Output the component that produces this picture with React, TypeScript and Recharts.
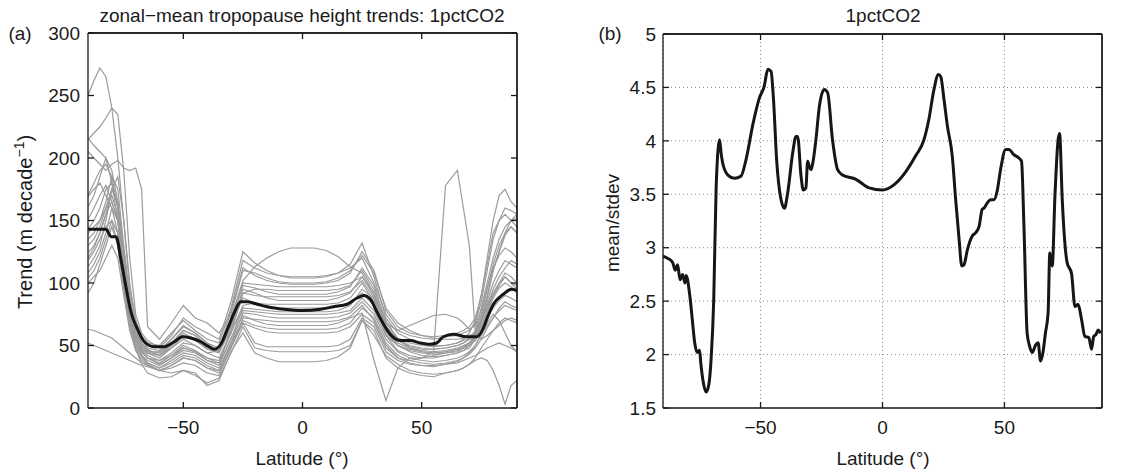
import React from 'react';
import { LineChart, Line, XAxis, YAxis, CartesianGrid, ReferenceLine } from 'recharts';

const FONT = '"Liberation Sans", Arial, Helvetica, sans-serif';

// ---------- Panel (a): latitude grid for individual model trends ----------
const grayLats = [-90, -87.5, -85, -82.5, -80, -77.5, -75, -72.5, -70, -67.5, -65, -60, -55, -50, -45, -40, -35, -30, -25, -20, -15, -10, -5, 0, 5, 10, 15, 20, 25, 30, 35, 40, 45, 50, 55, 60, 65, 67.5, 70, 72.5, 75, 77.5, 80, 82.5, 85, 87.5, 90];

// individual model trends (m/decade)
const m01 = [120, 128, 140, 155, 175, 165, 125, 85, 62, 52, 47, 42, 48, 55, 50, 44, 46, 72, 102, 113, 120, 125, 128, 128, 128, 126, 121, 113, 108, 92, 68, 62, 66, 70, 74, 75, 72, 68, 63, 66, 78, 96, 112, 122, 128, 125, 120];
const m02 = [250, 262, 272, 265, 240, 200, 150, 95, 70, 58, 52, 50, 60, 70, 62, 55, 52, 80, 118, 112, 108, 106, 105, 105, 105, 106, 108, 112, 120, 100, 75, 62, 58, 56, 55, 57, 58, 60, 62, 68, 85, 110, 135, 150, 160, 158, 155];
const m03 = [215, 220, 225, 232, 240, 235, 190, 120, 75, 60, 54, 48, 58, 72, 65, 60, 55, 85, 125, 116, 110, 106, 104, 104, 104, 105, 108, 115, 132, 105, 72, 60, 55, 52, 50, 50, 52, 55, 60, 70, 90, 120, 150, 170, 175, 165, 160];
const m04 = [205, 200, 195, 190, 195, 198, 192, 190, 192, 175, 65, 55, 68, 82, 72, 68, 60, 75, 110, 108, 104, 101, 100, 100, 100, 101, 104, 110, 122, 108, 80, 68, 62, 58, 56, 55, 55, 56, 58, 60, 70, 88, 110, 125, 140, 150, 155];
const m05 = [216, 210, 205, 200, 180, 150, 110, 75, 60, 50, 45, 42, 50, 60, 55, 48, 45, 68, 100, 99, 98, 97, 97, 97, 97, 97, 98, 100, 105, 90, 65, 55, 50, 48, 47, 48, 50, 52, 55, 62, 80, 100, 120, 135, 145, 150, 152];
const m06 = [169, 175, 180, 170, 160, 140, 100, 70, 55, 47, 42, 38, 42, 48, 45, 40, 38, 60, 92, 95, 95, 94, 94, 94, 94, 94, 95, 98, 110, 95, 70, 55, 48, 45, 44, 45, 47, 49, 52, 58, 72, 90, 110, 125, 138, 145, 140];
const m07 = [161, 170, 185, 200, 190, 165, 125, 85, 62, 50, 45, 45, 55, 65, 60, 52, 48, 70, 98, 96, 93, 91, 91, 91, 91, 91, 93, 97, 112, 98, 68, 56, 52, 50, 49, 50, 52, 54, 56, 60, 75, 95, 115, 130, 140, 145, 140];
const m08 = [151, 160, 170, 178, 165, 150, 115, 78, 58, 48, 44, 40, 48, 58, 54, 47, 44, 65, 92, 90, 89, 89, 89, 89, 89, 89, 90, 93, 102, 88, 66, 54, 49, 47, 47, 48, 50, 52, 55, 60, 70, 85, 100, 110, 118, 115, 112];
const m09 = [143, 150, 160, 175, 180, 160, 120, 80, 58, 46, 40, 35, 40, 48, 45, 38, 36, 62, 95, 92, 88, 86, 86, 86, 86, 86, 88, 92, 105, 92, 62, 50, 45, 42, 41, 42, 44, 46, 48, 55, 68, 82, 95, 105, 112, 118, 115];
const m10 = [140, 145, 150, 160, 170, 155, 110, 75, 55, 44, 40, 38, 44, 52, 50, 44, 40, 60, 82, 84, 83, 83, 83, 83, 83, 83, 84, 88, 100, 85, 60, 50, 46, 44, 43, 44, 46, 48, 52, 58, 70, 82, 92, 100, 108, 105, 100];
const m11 = [135, 140, 150, 165, 185, 175, 130, 90, 65, 52, 46, 44, 52, 62, 58, 50, 46, 66, 88, 84, 81, 80, 80, 80, 80, 80, 81, 84, 92, 82, 62, 52, 48, 46, 45, 46, 48, 50, 52, 56, 64, 76, 88, 96, 100, 97, 92];
const m12 = [124, 130, 140, 155, 165, 150, 110, 75, 55, 45, 40, 36, 42, 50, 46, 40, 36, 55, 80, 79, 78, 77, 77, 77, 77, 77, 78, 82, 95, 88, 58, 46, 42, 40, 40, 42, 44, 46, 50, 56, 66, 78, 90, 98, 105, 100, 95];
const m13 = [113, 120, 130, 150, 175, 185, 150, 100, 70, 55, 48, 46, 55, 66, 60, 52, 45, 62, 78, 77, 76, 75, 75, 75, 75, 75, 76, 78, 88, 78, 58, 50, 47, 45, 44, 45, 47, 48, 50, 54, 62, 72, 80, 86, 90, 88, 85];
const m14 = [104, 110, 120, 135, 150, 140, 105, 72, 52, 42, 36, 32, 36, 42, 40, 34, 30, 52, 76, 75, 73, 72, 72, 72, 72, 72, 73, 76, 85, 75, 55, 45, 40, 38, 37, 38, 40, 42, 45, 50, 58, 66, 72, 78, 82, 80, 78];
const m15 = [92, 100, 115, 130, 145, 130, 95, 65, 48, 40, 35, 30, 34, 40, 38, 32, 28, 48, 72, 71, 70, 69, 69, 69, 69, 69, 70, 73, 82, 70, 50, 40, 36, 34, 33, 35, 37, 40, 44, 50, 60, 68, 75, 70, 60, 50, 45];
const m16 = [118, 125, 135, 145, 150, 130, 95, 68, 50, 42, 38, 34, 40, 46, 44, 38, 34, 56, 74, 70, 67, 66, 66, 66, 66, 66, 68, 72, 76, 38, 6, 32, 40, 40, 42, 44, 45, 48, 52, 60, 70, 80, 90, 100, 105, 100, 98];
const m17 = [108, 115, 125, 140, 160, 150, 110, 72, 52, 42, 36, 32, 38, 44, 42, 36, 32, 52, 70, 66, 64, 63, 63, 63, 63, 63, 64, 68, 80, 72, 52, 42, 38, 36, 35, 36, 38, 40, 43, 48, 55, 64, 72, 80, 85, 82, 80];
const m18 = [100, 105, 110, 120, 130, 120, 90, 62, 46, 38, 34, 30, 34, 40, 38, 32, 30, 50, 68, 64, 61, 60, 60, 60, 60, 60, 61, 65, 75, 68, 48, 40, 38, 40, 45, 178, 190, 160, 130, 60, 55, 58, 62, 66, 70, 72, 70];
const m19 = [63, 62, 60, 58, 56, 52, 48, 44, 40, 36, 34, 30, 32, 36, 34, 28, 26, 48, 68, 52, 49, 49, 49, 49, 49, 49, 50, 55, 72, 65, 45, 38, 35, 34, 34, 35, 36, 38, 40, 42, 45, 48, 50, 52, 50, 48, 45];
const m20 = [52, 50, 48, 46, 44, 42, 40, 38, 36, 34, 33, 30, 28, 30, 26, 20, 24, 44, 65, 48, 46, 45, 45, 45, 45, 45, 46, 50, 70, 62, 40, 32, 28, 26, 25, 28, 30, 32, 35, 38, 40, 38, 30, 18, 3, 18, 22];
const m21 = [170, 180, 190, 195, 185, 160, 115, 72, 48, 35, 28, 24, 25, 30, 28, 18, 22, 45, 60, 44, 40, 37, 37, 37, 37, 38, 41, 48, 70, 58, 42, 35, 30, 28, 27, 28, 30, 32, 35, 40, 48, 55, 62, 68, 72, 70, 68];
const m22 = [130, 135, 145, 160, 175, 165, 120, 80, 58, 48, 44, 42, 52, 62, 58, 50, 46, 78, 112, 106, 102, 100, 99, 99, 99, 100, 102, 108, 125, 110, 78, 65, 60, 58, 57, 58, 60, 62, 65, 72, 90, 115, 140, 150, 155, 150, 145];
const modelTrends = [m01, m02, m03, m04, m05, m06, m07, m08, m09, m10, m11, m12, m13, m14, m15, m16, m17, m18, m19, m20, m21, m22];

// multi-model mean trend
const meanLat = [-90, -82.4, -80.3, -78.2, -76.2, -74.1, -72, -69.2, -66.4, -62.2, -58, -53.8, -50.3, -46.9, -42.7, -39.2, -37.1, -34.3, -31.5, -28.7, -25.9, -23.2, -19, -14.8, -7.8, 0, 7.5, 13.1, 18.7, 22.9, 25.7, 28.5, 31.2, 34, 36.8, 41, 45.2, 49.4, 53.6, 56.3, 59.1, 63.3, 68.9, 73.1, 75.9, 77.3, 80.1, 84.2, 87.7, 90];
const meanTrend = [143, 143, 137, 137, 119, 97, 77, 63, 53, 49, 49, 53, 57, 56, 53, 49, 47, 51, 63, 76, 85, 85, 83, 81, 79, 78, 79, 81, 83, 88, 90, 87, 77, 67, 59, 54, 54, 52, 51, 52, 57, 59, 57, 57, 64, 71, 83, 91, 95, 94];

// ---------- Panel (b): mean / stdev ----------
const snrLat = [-90, -88, -86, -85, -84, -83, -82, -81, -80.5, -79, -78, -77, -76, -75, -74.5, -73.4, -72.3, -71.2, -70.3, -69.2, -68.2, -66.8, -66.2, -65.5, -63.4, -60.7, -58, -56, -53, -50.5, -48.5, -47, -45.7, -44.7, -43.4, -41.6, -40.2, -38.9, -36.8, -35.5, -34.8, -33.4, -32.5, -31.4, -30.7, -30, -29.3, -28.6, -27.3, -25.9, -23.9, -22.5, -20.5, -18.4, -16.4, -10.9, -5.5, 0, 4.8, 9.5, 13.6, 17, 19, 21.1, 22.9, 23.9, 25.2, 26.6, 28.6, 30, 31.4, 32.5, 33.4, 34.8, 36.8, 38.2, 39.6, 40.9, 41.6, 43, 44.3, 45.7, 47, 48.4, 50.5, 51.8, 53.9, 55.9, 57, 58, 59.3, 60.3, 61.4, 62.8, 63.8, 64.8, 65.8, 66.8, 67.9, 68.6, 69.6, 70.7, 72, 72.6, 73.7, 75.7, 77.5, 78.9, 80.2, 81.6, 83, 84.6, 85.7, 86.6, 87.6, 88.4, 89.4];
const snrValue = [2.92, 2.9, 2.86, 2.79, 2.84, 2.7, 2.75, 2.67, 2.74, 2.55, 2.33, 2.11, 2.02, 2.04, 1.92, 1.73, 1.65, 1.72, 1.95, 2.51, 3.57, 4.01, 3.89, 3.79, 3.68, 3.65, 3.67, 3.82, 4.17, 4.4, 4.51, 4.67, 4.65, 4.39, 3.82, 3.45, 3.37, 3.51, 3.89, 4.04, 4.04, 3.67, 3.54, 3.56, 3.81, 3.76, 3.73, 3.79, 4.01, 4.32, 4.48, 4.45, 4.01, 3.73, 3.68, 3.64, 3.56, 3.54, 3.59, 3.71, 3.86, 4.01, 4.2, 4.48, 4.62, 4.6, 4.39, 4.14, 3.86, 3.45, 3.08, 2.83, 2.84, 2.98, 3.11, 3.14, 3.2, 3.36, 3.37, 3.42, 3.45, 3.45, 3.53, 3.73, 3.92, 3.92, 3.87, 3.84, 3.81, 3.2, 2.2, 2.08, 2.02, 2.09, 2.11, 1.94, 2.02, 2.2, 2.39, 2.95, 2.83, 3.48, 4.01, 4.07, 3.45, 2.86, 2.76, 2.45, 2.47, 2.33, 2.17, 2.16, 2.05, 2.17, 2.19, 2.23, 2.2];

const latTicks = [-50, 0, 50];
const latDomain: [number, number] = [-90, 90];
const trendTicks = [0, 50, 100, 150, 200, 250, 300];
const trendDomain: [number, number] = [0, 300];
const snrTicks = [1.5, 2, 2.5, 3, 3.5, 4, 4.5, 5];
const snrDomain: [number, number] = [1.5, 5];

const titleA = 'zonal\u2212mean tropopause height trends: 1pctCO2';
const titleB = '1pctCO2';
const xLabel = 'Latitude (\u00b0)';
const yLabelB = 'mean/stdev';

const fmt = (v: number) => String(v).replace('-', '\u2212');

const grayRows = modelTrends.map((vals) => vals.map((v, j) => ({ lat: grayLats[j], v })));
const meanRows = meanLat.map((lat, i) => ({ lat, v: meanTrend[i] }));
const snrRows = snrLat.map((lat, i) => ({ lat, v: snrValue[i] }));

const AX = '#1a1a1a';
const tickStyle = { fill: '#1a1a1a', fontSize: 19, fontFamily: FONT };
const EmptyTick = () => <g />;

const abs = (left: number, top: number, extra: React.CSSProperties = {}): React.CSSProperties => ({
  position: 'absolute',
  left,
  top,
  transform: 'translate(-50%, -50%)',
  whiteSpace: 'nowrap',
  fontFamily: FONT,
  fontSize: 19,
  color: '#1a1a1a',
  lineHeight: 1,
  ...extra,
});

function frameAxes(yDomain: [number, number], yTicks: number[], yWidth: number, yMargin: number) {
  return [
    <XAxis
      key="xb"
      dataKey="lat"
      type="number"
      domain={latDomain}
      ticks={latTicks}
      tickFormatter={fmt}
      allowDataOverflow
      height={66}
      tickSize={-6}
      tickMargin={19}
      tick={tickStyle}
      stroke={AX}
      strokeWidth={1.3}
    />,
    <XAxis
      key="xt"
      xAxisId="top"
      orientation="top"
      dataKey="lat"
      type="number"
      domain={latDomain}
      ticks={latTicks}
      allowDataOverflow
      height={1}
      tickSize={-6}
      tick={<EmptyTick />}
      stroke={AX}
      strokeWidth={1.3}
    />,
    <YAxis
      key="yl"
      type="number"
      domain={yDomain}
      ticks={yTicks}
      allowDataOverflow
      width={yWidth}
      tickSize={-6}
      tickMargin={yMargin}
      tick={tickStyle}
      stroke={AX}
      strokeWidth={1.3}
    />,
    <YAxis
      key="yr"
      yAxisId="right"
      orientation="right"
      type="number"
      domain={yDomain}
      ticks={yTicks}
      allowDataOverflow
      width={1}
      tickSize={-6}
      tick={<EmptyTick />}
      stroke={AX}
      strokeWidth={1.3}
    />,
  ];
}

export default function App() {
  return (
    <div style={{ position: 'fixed', left: 0, top: 0, width: 1147, height: 474, background: '#fff' }}>
      {/* Panel (a) */}
      <div style={{ position: 'absolute', left: 0, top: 0 }}>
        <LineChart width={580} height={474} margin={{ top: 32, right: 62, left: 0, bottom: 0 }}>
          {frameAxes(trendDomain, trendTicks, 88, 14)}
          {grayRows.map((rows, i) => (
            <Line
              key={'m' + i}
              data={rows}
              dataKey="v"
              type="linear"
              stroke="#9b9b9b"
              strokeWidth={1.2}
              dot={false}
              activeDot={false}
              isAnimationActive={false}
            />
          ))}
          <Line
            data={meanRows}
            dataKey="v"
            type="monotone"
            stroke="#161616"
            strokeWidth={3}
            dot={false}
            activeDot={false}
            isAnimationActive={false}
          />
          <Line
            xAxisId="top"
            yAxisId="right"
            data={meanRows}
            dataKey="v"
            stroke="none"
            dot={false}
            activeDot={false}
            legendType="none"
            isAnimationActive={false}
          />
          <ReferenceLine y={trendDomain[1]} stroke={AX} strokeWidth={1.3} ifOverflow="visible" />
          <ReferenceLine x={latDomain[1]} stroke={AX} strokeWidth={1.3} ifOverflow="visible" />
        </LineChart>
        <div style={abs(302, 15)}>{titleA}</div>
        <div style={abs(20, 33)}>(a)</div>
        <div style={abs(302, 458)}>{xLabel}</div>
        <div style={abs(25, 222, { fontSize: 20, transform: 'translate(-50%, -50%) rotate(-90deg)' })}>
          Trend (m decade<sup style={{ fontSize: 14, verticalAlign: 'super', lineHeight: 0 }}>{'\u22121'}</sup>)
        </div>
      </div>

      {/* Panel (b) */}
      <div style={{ position: 'absolute', left: 580, top: 0 }}>
        <LineChart width={567} height={474} margin={{ top: 33, right: 44, left: 0, bottom: 0 }}>
          <CartesianGrid stroke="#8a8a8a" strokeWidth={1} strokeDasharray="1 3" />
          {frameAxes(snrDomain, snrTicks, 83, 13)}
          <Line
            data={snrRows}
            dataKey="v"
            type="monotone"
            stroke="#161616"
            strokeWidth={3}
            dot={false}
            activeDot={false}
            isAnimationActive={false}
          />
          <Line
            xAxisId="top"
            yAxisId="right"
            data={snrRows}
            dataKey="v"
            stroke="none"
            dot={false}
            activeDot={false}
            legendType="none"
            isAnimationActive={false}
          />
          <ReferenceLine y={snrDomain[1]} stroke={AX} strokeWidth={1.3} ifOverflow="visible" />
          <ReferenceLine x={latDomain[1]} stroke={AX} strokeWidth={1.3} ifOverflow="visible" />
        </LineChart>
        <div style={abs(303, 15)}>{titleB}</div>
        <div style={abs(30, 33)}>(b)</div>
        <div style={abs(303, 458)}>{xLabel}</div>
        <div style={abs(32, 223, { transform: 'translate(-50%, -50%) rotate(-90deg)' })}>{yLabelB}</div>
      </div>
    </div>
  );
}
